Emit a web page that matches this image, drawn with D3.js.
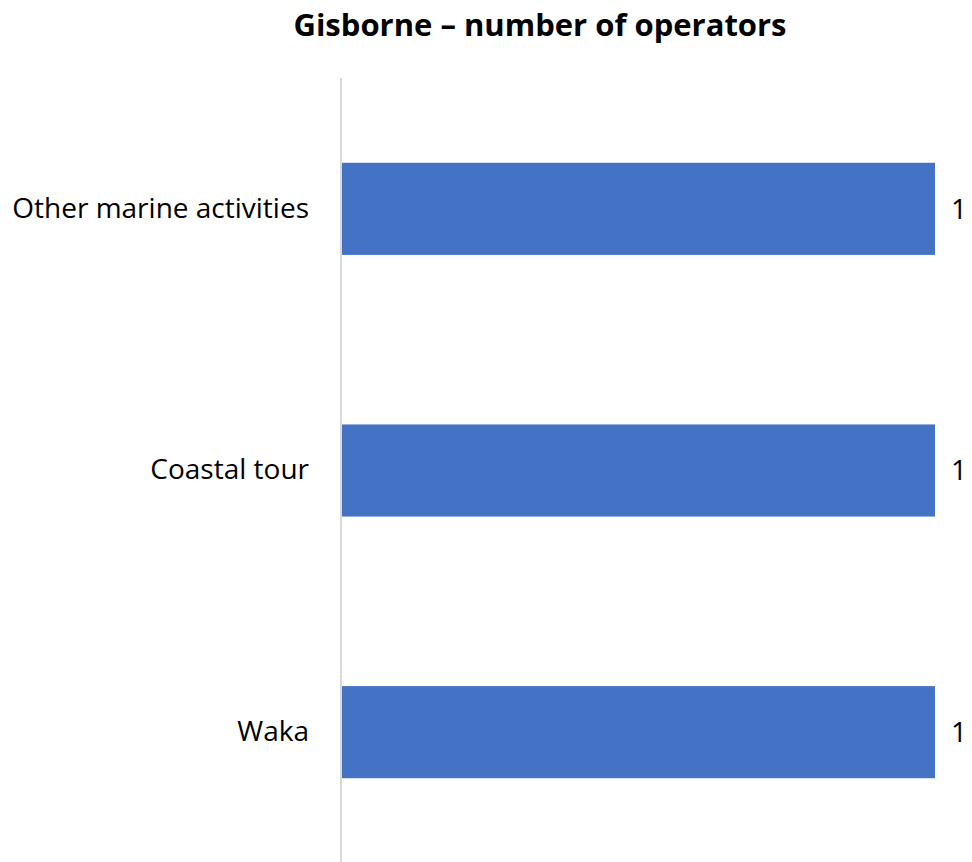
<!DOCTYPE html>
<html><head><meta charset="utf-8">
<script src="https://cdn.jsdelivr.net/npm/d3@7"></script>
<style>body{margin:0;background:#fff}svg{display:block}</style>
</head><body>
<script>
const categories = ["Other marine activities", "Coastal tour", "Waka"];
const values = [1, 1, 1];
const title = "Gisborne \u2013 number of operators";

const W = 972, H = 862;
const svg = d3.select("body").append("svg").attr("width", W).attr("height", H);
const font = "'Open Sans', 'Noto Sans', sans-serif";

const x = d3.scaleLinear().domain([0, 1]).range([341, 935]);
const y = d3.scaleBand().domain(categories).range([78, 863]).paddingInner(0.648).paddingOuter(0.324);

svg.append("text").attr("x", 540).attr("y", 36).attr("text-anchor", "middle")
  .attr("font-family", font).attr("font-weight", "bold").attr("font-size", 31)
  .attr("fill", "#000").text(title);

svg.selectAll("rect.bar").data(categories).enter().append("rect")
  .attr("class", "bar")
  .attr("x", x(0)).attr("y", d => y(d))
  .attr("width", (d, i) => x(values[i]) - x(0))
  .attr("height", y.bandwidth()).attr("fill", "#4472C4");

svg.append("line").attr("x1", 341).attr("x2", 341).attr("y1", 78).attr("y2", 862)
  .attr("stroke", "#d9d9d9").attr("stroke-width", 2);

const yAxis = d3.axisLeft(y).tickSize(0).tickPadding(32);
const ga = svg.append("g").attr("transform", "translate(341,0)").call(yAxis);
ga.select(".domain").remove();
ga.selectAll("text").attr("font-family", font).attr("font-size", 28).attr("fill", "#000");

svg.selectAll("text.val").data(categories).enter().append("text")
  .attr("class", "val")
  .attr("x", (d, i) => x(values[i]) + 16)
  .attr("y", d => y(d) + y.bandwidth() / 2)
  .attr("dy", "0.35em")
  .attr("font-family", font).attr("font-size", 28).attr("fill", "#000")
  .text((d, i) => values[i]);
</script>
</body></html>
